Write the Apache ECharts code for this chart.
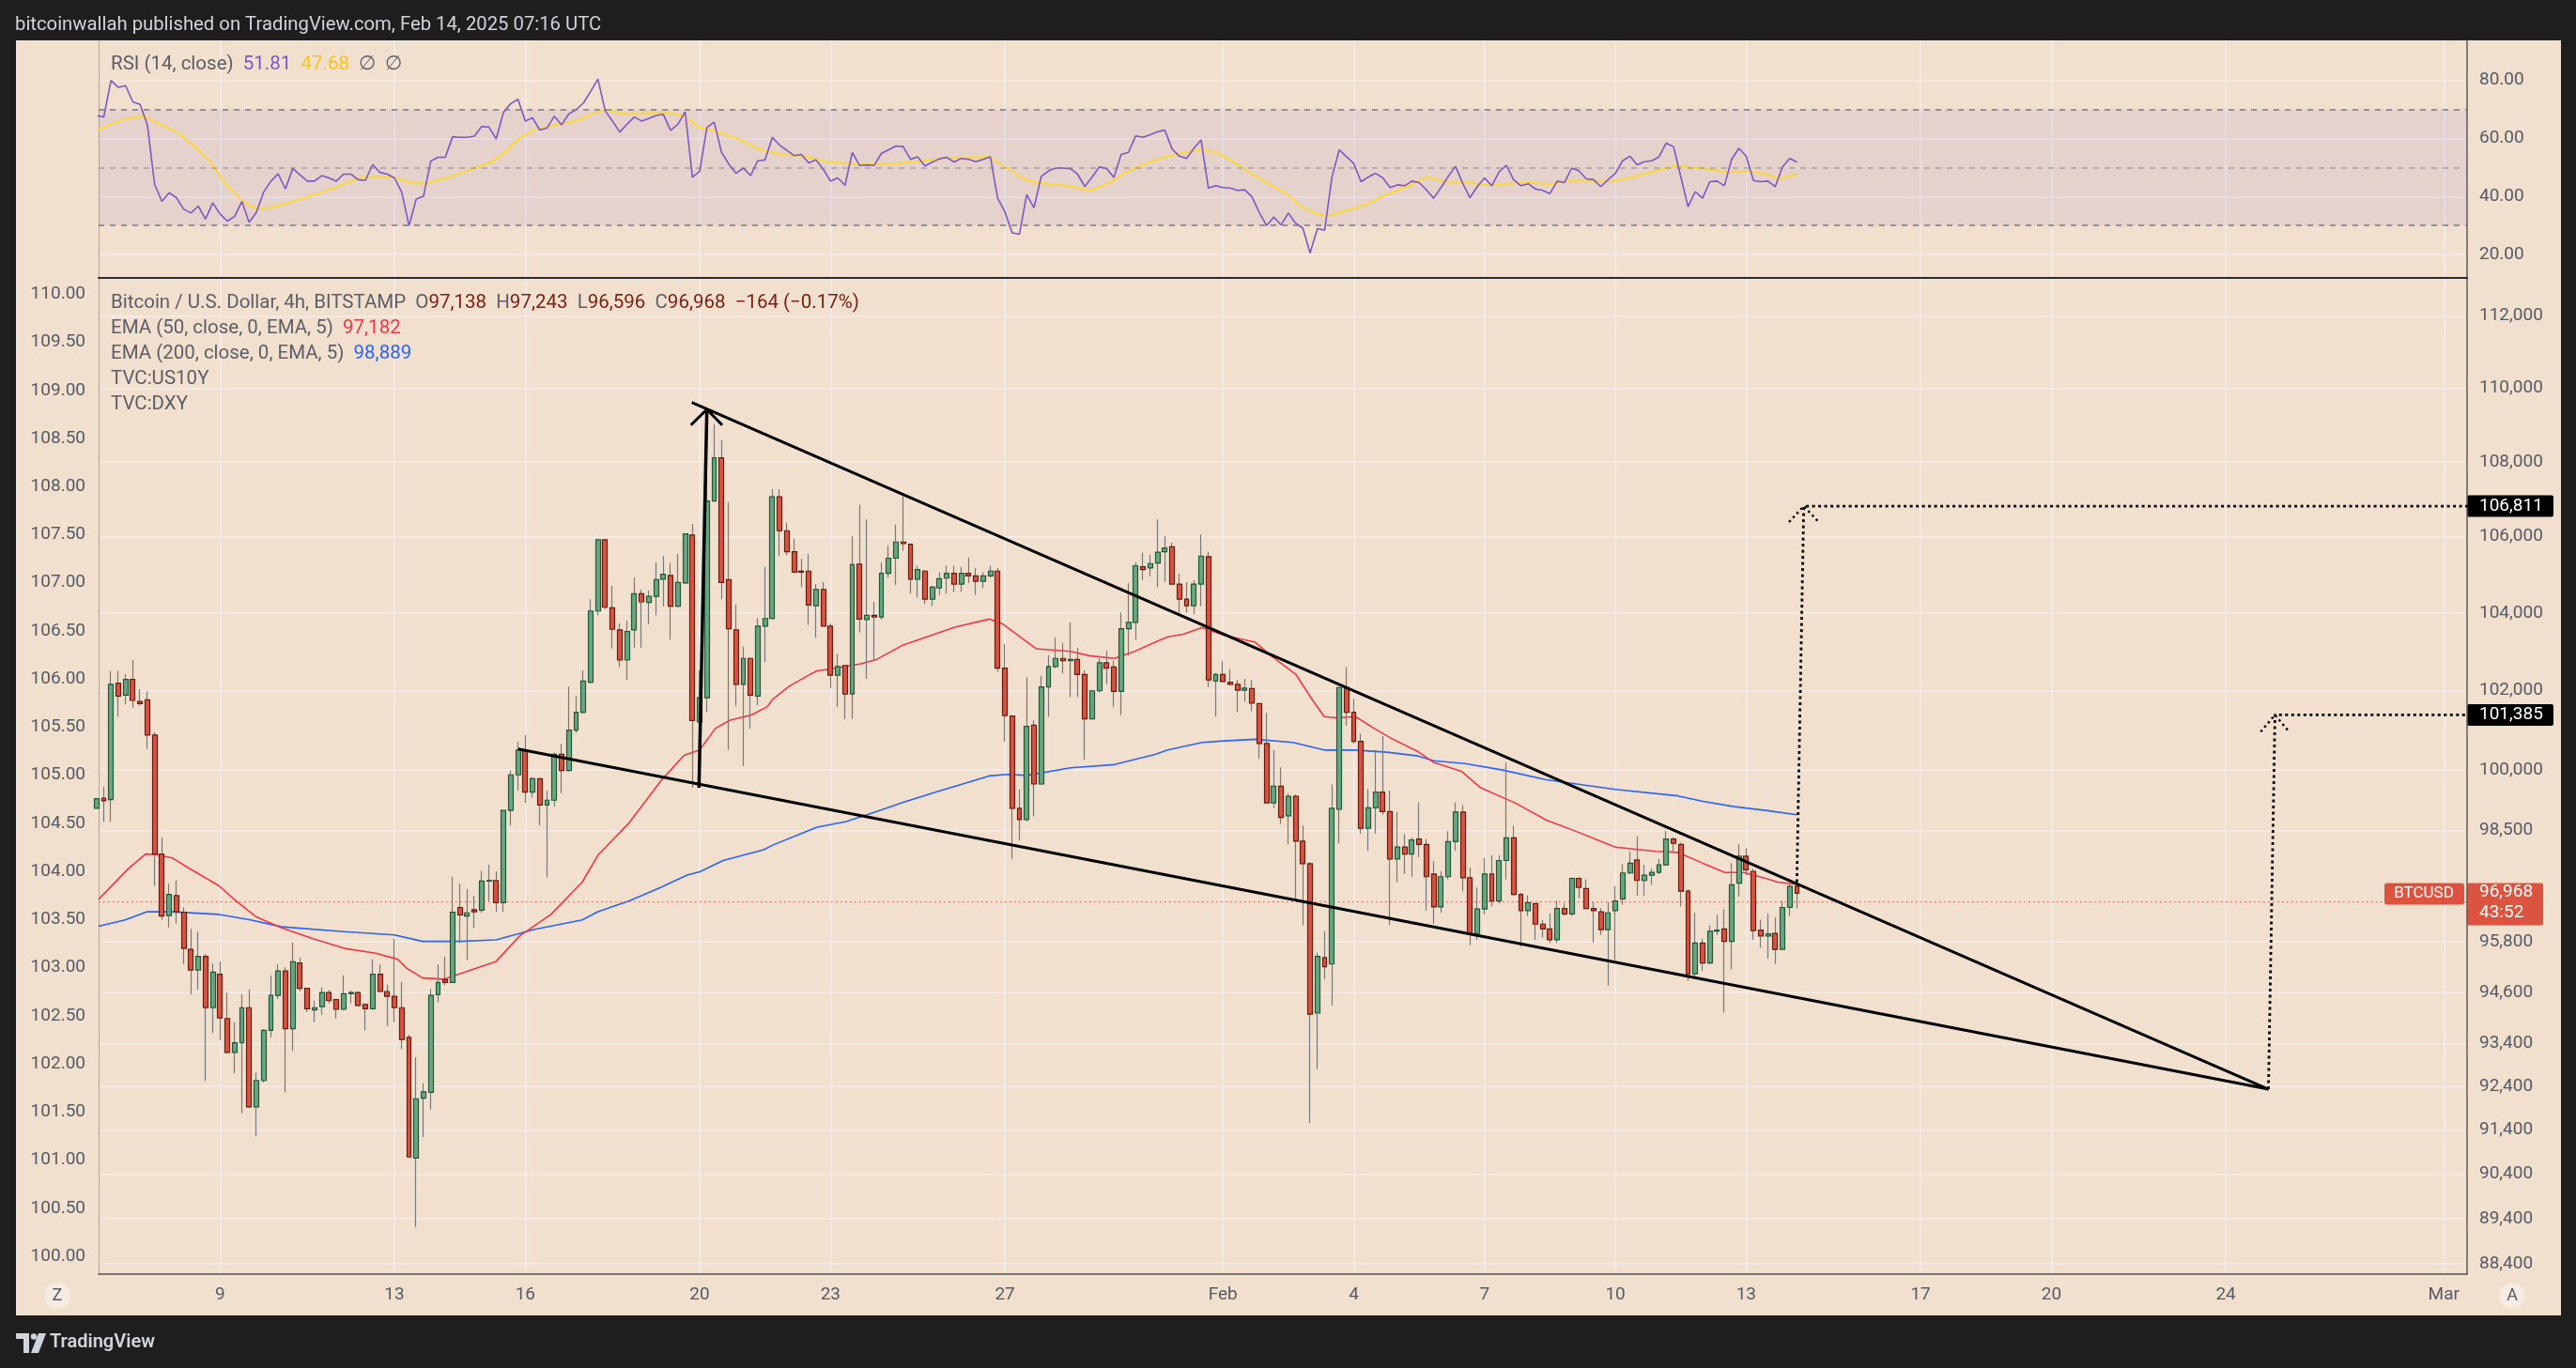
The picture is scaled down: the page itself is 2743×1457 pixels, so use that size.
<!DOCTYPE html>
<html><head><meta charset="utf-8">
<script src="https://cdn.jsdelivr.net/npm/echarts@6/dist/echarts.min.js"></script>
<style>
html,body{margin:0;padding:0;background:#1e1e1e;overflow:hidden}
#peach{position:absolute;left:17px;top:43px;width:2710px;height:1358px;background:#f2e0cf}
#c{position:absolute;left:0;top:0;width:2743px;height:1457px}
</style>
</head><body><div id="peach"></div><div id="c"></div>
<script>
// ---------- DATA ----------
const startDay = 5 + 4/24;          // first candle: Jan 6 04:00 UTC (days since Jan 1)
const stepDay = 1/6;                // 4h candles
const opens = [99048,99301,99261,102190,101888,102287,101723,101765,100878,97922,96431,96913,96508,95617,95129,95449,94236,95026,93983,93190,93415,94236,91932,92540,93705,94529,95103,93743,95295,94694,94186,94262,94592,94427,94198,94567,94592,94313,94211,95026,94618,94503,94236,93541,90764,92130,92266,94541,94898,94834,96625,96418,96573,96560,97265,97278,96743,98995,99878,100499,99449,99784,99128,99248,100391,99985,101000,101450,102217,104049,105915,104133,103561,102783,103561,104499,104274,104429,104879,104978,104175,104780,106043,101204,101819,106946,108104,104865,103561,102163,102825,101860,103658,103854,107061,106157,105601,105091,105091,104189,104611,103658,102397,102644,101915,105275,103826,103938,103896,105035,105431,105858,105801,104879,105091,104358,104654,104907,105035,104752,105035,104964,104822,104964,105091,102576,101354,99048,98768,101123,99650,102094,102617,102825,102769,102797,102411,101286,101997,102714,102603,101983,103589,103756,105204,105176,105304,105601,105729,104752,104358,104189,104752,105473,102245,102411,102217,102163,102011,102052,101669,100661,99181,99596,98862,99342,98239,97685,94109,95423,95269,99021,102080,101450,100715,98556,99061,99449,98968,97803,98093,97922,98292,98159,97435,96638,97370,98226,98955,97343,96003,96586,97435,96782,97764,98318,96939,96547,96717,96223,96106,95848,96599,96470,97330,97082,96599,96521,96093,96547,96834,97461,97777,97278,97409,97474,97659,98292,98159,97017,95039,95771,95295,96055,96106,95810,97213,97869,97501,96080,95939,96003,95617,96625,97138];
const highs = [99422,99583,102507,102507,102424,102783,102039,101983,100946,98331,97200,97278,96625,96106,96042,95513,95282,95333,94592,93895,94554,94669,92727,93731,95001,95257,95193,95784,95423,94694,94402,94719,94656,94427,95001,94643,94618,94338,95384,95257,94783,95874,94847,93604,93077,92477,94681,95257,95449,97370,97200,97069,96913,97514,97659,97501,99000,99985,100702,100878,99824,99798,99489,100431,100661,102108,101860,102521,104358,105943,105943,104710,103728,103798,104921,104611,104583,105318,105487,105304,105545,106086,106329,102521,107639,109024,108585,106917,104218,103130,102852,103868,105204,107263,107263,106372,105943,105417,105545,104752,104808,103728,102936,102644,106015,106845,106458,104288,105318,105772,106315,107134,105801,105233,105120,104710,105063,105233,105233,105204,105445,105176,105063,105233,105176,103199,101354,99516,102342,101245,102383,102908,103365,103213,103756,103102,102521,101997,102825,103019,102769,104007,104780,105318,105573,105516,106458,106015,105843,105020,104808,104850,106058,105601,102452,102755,102548,102273,102301,102273,101669,101436,100499,100067,99422,99395,98622,97724,95539,96055,99637,102080,102603,101792,100905,99530,100499,100851,99489,98955,98411,98331,99195,98292,97750,97501,98490,99195,99128,97593,97108,97829,97895,97895,100188,98622,96978,96913,96717,96327,96482,96782,96730,97356,97356,97304,96756,96612,96756,97147,97672,97987,98357,97659,97566,97803,98490,98331,98199,97069,96495,95874,96197,96457,96586,97698,98159,98066,97566,96327,96482,96392,96782,97200,97243];
const lows = [98955,98715,98715,101340,101655,101573,101614,100526,97147,96327,96145,96236,95269,94554,94656,92527,93642,93478,93165,92702,91783,91907,91253,92490,93541,94440,92266,93227,94618,94135,93895,94071,94338,93983,94173,94338,94262,93705,94186,94592,93806,93895,93265,90788,89213,91241,91870,94364,94770,94834,95771,95359,96132,96495,96782,96521,96521,98622,99489,99181,99315,98622,97356,99088,99422,99958,100932,101422,102190,103938,104105,103074,102603,102273,103102,103102,103700,103938,104175,103310,104147,104752,99556,99556,101450,106946,104358,100499,101614,100094,101041,101628,102728,103826,105487,105516,105063,104668,103686,103351,103658,102066,101587,101272,101286,103491,102301,102769,103826,104921,104724,105630,104499,104401,104232,104175,104471,104499,104541,104541,104780,104471,104640,104921,102479,100702,97803,98252,98729,98848,99623,101340,102576,102438,101833,101833,100256,101286,101956,102163,101587,101382,102894,103310,104850,104949,104668,104808,104752,104007,104007,103966,104175,102094,101340,102231,102135,101450,101723,101477,100283,99181,99048,98662,98159,96834,96197,91561,92801,94911,94287,98186,101109,100661,98424,98000,98424,98888,96197,97239,97435,97370,97843,96547,96236,96495,97304,98000,97017,95720,95848,96457,96651,96717,97304,96913,95681,96418,95848,95900,95771,95771,96418,96418,96847,96586,95784,95964,94758,95359,96690,97435,96913,96913,97174,97435,97632,97961,96651,94873,94950,95103,95269,95964,94122,95141,96886,97409,95848,95655,95397,95269,95617,96418,96596];
const closes = [99288,99235,102163,101860,102287,101751,101669,100878,97922,96418,96939,96521,95642,95129,95449,94236,95078,93996,93190,93415,94236,91932,92540,93705,94529,95103,93743,95321,94694,94211,94236,94592,94402,94198,94567,94592,94287,94211,95026,94618,94503,94236,93491,90788,92117,92278,94529,94834,94834,96508,96444,96495,96521,97265,97278,96743,98995,99878,100499,99449,99784,99128,99248,100391,99985,101000,101450,102245,104049,105915,104147,103575,102783,103519,104499,104288,104429,104865,105006,104175,104794,106072,101245,101819,106946,108104,104794,103589,102163,102825,101888,103658,103854,107061,106157,105601,105063,105063,104204,104611,103658,102397,102617,101915,105261,103840,103938,103896,105035,105431,105858,105815,104879,105134,104358,104668,104893,105035,104752,105035,104964,104822,104964,105091,102576,101368,99048,98768,101096,99650,102094,102617,102825,102769,102797,102411,101286,101997,102714,102576,101983,103589,103756,105233,105134,105289,105587,105701,104752,104358,104189,104752,105487,102273,102411,102231,102163,102011,102066,101682,100661,99181,99596,98822,99342,98239,97685,94084,95449,95205,99048,102080,101450,100715,98556,99061,99449,98968,97803,98093,97922,98265,98159,97370,96638,97370,98226,98955,97343,96003,96586,97435,96782,97764,98318,96939,96547,96743,96223,96106,95848,96599,96470,97330,97108,96599,96547,96093,96495,96782,97461,97698,97278,97409,97474,97659,98292,98186,97017,95039,95771,95295,96055,96080,95810,97174,97869,97540,96068,95939,95990,95617,96625,97134,96968];
const rsiValues = [67.9,67.4,80.0,77.6,78.2,72.6,71.7,64.7,44.2,38.3,41.3,39.6,35.6,34.3,36.7,32.2,37.8,34.0,31.5,33.1,38.3,31.1,34.5,41.5,45.3,47.8,42.6,49.6,47.5,45.3,45.3,47.2,46.4,45.3,47.7,47.7,45.8,45.5,51.0,48.3,47.7,46.4,41.5,30.0,39.1,40.1,52.2,53.5,53.5,60.6,60.4,60.4,60.8,64.1,63.9,59.8,69.0,72.0,73.5,66.0,67.1,62.9,63.6,67.7,64.7,68.5,69.9,72.2,76.2,80.5,69.5,66.0,62.2,64.9,67.4,66.0,66.9,67.9,68.3,62.8,64.9,69.2,46.7,48.7,63.8,65.6,55.2,51.2,48.0,49.8,47.2,52.3,52.6,60.4,57.7,55.9,54.1,54.5,51.6,52.6,49.4,45.3,46.4,43.9,55.2,50.7,50.9,50.7,54.8,56.1,57.4,57.2,52.8,53.7,50.5,51.8,53.0,53.5,51.9,53.1,52.8,52.0,52.8,53.7,39.4,34.7,27.5,27.0,40.7,36.1,46.9,48.8,49.8,49.8,49.6,47.7,43.4,46.7,50.2,49.6,46.6,54.5,55.2,60.9,60.4,61.3,62.3,62.9,56.4,53.9,53.1,56.6,59.5,42.9,43.7,43.1,42.9,42.1,42.3,39.9,34.5,30.0,32.9,30.2,34.3,30.8,29.1,20.5,28.9,28.4,46.6,56.1,53.7,51.4,45.1,46.7,48.0,46.4,43.1,44.0,43.7,45.3,44.8,42.3,39.4,43.1,46.9,50.4,44.5,39.6,43.4,46.4,43.7,48.5,50.7,45.8,43.7,44.4,42.6,42.1,41.0,45.3,44.8,49.8,48.8,46.1,45.8,43.4,45.8,48.0,52.3,53.9,50.9,52.0,52.3,53.6,58.4,57.2,46.9,36.5,41.7,39.4,45.1,45.3,43.7,52.8,56.6,53.9,45.5,45.1,45.3,43.4,50.2,53.1,51.8];
const rsiMA = [[5.208,62.9],[5.487,64.9],[5.865,66.9],[6.245,67.7],[6.497,65.8],[7.003,62.3],[7.382,57.7],[7.762,52.3],[8.140,44.2],[8.520,38.3],[8.835,35.8],[9.150,36.1],[9.656,38.3],[10.162,40.7],[10.667,43.1],[11.173,46.4],[11.678,46.9],[11.993,46.4],[12.310,45.0],[12.688,44.4],[13.194,46.4],[13.700,49.1],[14.205,51.8],[14.522,55.0],[14.837,59.8],[15.217,63.1],[15.722,64.7],[16.227,66.3],[16.607,69.0],[16.858,69.9],[17.237,68.5],[17.743,68.5],[18.248,69.0],[18.628,67.9],[19.007,63.6],[19.387,62.5],[19.892,59.8],[20.397,56.1],[20.903,54.5],[21.408,53.9],[21.788,52.3],[22.293,51.6],[22.800,51.2],[23.304,51.2],[23.808,51.8],[24.313,52.6],[24.820,53.4],[25.633,53.6],[26.008,50.2],[26.383,46.4],[26.700,44.8],[27.267,44.0],[27.650,43.1],[27.967,42.1],[28.410,44.8],[28.789,48.5],[29.295,51.8],[29.800,54.1],[30.180,55.3],[30.558,56.3],[30.938,54.5],[31.317,51.2],[31.697,47.5],[32.075,44.2],[32.455,41.0],[32.833,36.1],[33.217,33.7],[33.400,33.2],[33.845,35.3],[34.225,36.9],[34.730,40.6],[35.235,43.4],[35.678,46.7],[36.120,45.1],[36.625,44.8],[37.005,44.0],[37.510,44.4],[38.017,44.8],[38.517,44.2],[39.025,45.5],[39.533,45.1],[39.905,45.3],[40.410,46.7],[40.917,48.8],[41.350,50.5],[41.683,50.2],[42.183,49.4],[42.567,48.3],[43.067,48.8],[43.450,47.7],[43.767,46.1],[44.167,47.68]];
const ema50 = [[5.215,96821],[5.538,97174],[5.898,97566],[6.292,97922],[6.544,97908],[6.902,97829],[7.261,97593],[7.621,97370],[7.978,97147],[8.338,96808],[8.840,96392],[9.415,96132],[10.132,95874],[10.852,95642],[11.569,95526],[12.071,95384],[12.286,95167],[12.646,94937],[13.148,94911],[13.794,95141],[14.333,95333],[14.871,95939],[15.590,96457],[16.307,97239],[16.667,97895],[17.384,98689],[18.101,99717],[18.640,100364],[19.000,100499],[19.359,101041],[19.682,101245],[20.184,101382],[20.543,101587],[20.686,101792],[21.045,102108],[21.476,102383],[21.691,102507],[21.978,102548],[22.697,102686],[23.055,102797],[23.667,103171],[24.276,103407],[24.851,103631],[25.640,103840],[25.928,103728],[26.430,103310],[26.716,103074],[27.507,103005],[27.937,102894],[28.512,102825],[28.943,102991],[29.445,103240],[29.732,103379],[30.091,103449],[30.522,103617],[31.024,103421],[31.743,103240],[32.101,102894],[32.676,102411],[33.035,101792],[33.322,101340],[33.609,101313],[34.039,101340],[34.470,101041],[34.901,100770],[35.476,100458],[35.835,100188],[36.481,99958],[36.912,99556],[37.414,99315],[37.701,99181],[38.420,98755],[39.137,98463],[39.999,98093],[40.932,97987],[41.435,97961],[42.009,97698],[42.513,97474],[42.943,97474],[43.445,97330],[43.732,97239],[44.167,97182]];
const ema200 = [[5.215,96171],[5.825,96327],[6.329,96521],[6.902,96521],[7.978,96457],[8.698,96327],[9.415,96158],[10.852,96042],[12.000,95964],[12.646,95810],[13.507,95810],[14.333,95848],[15.195,96093],[16.307,96327],[16.667,96521],[17.384,96782],[18.101,97108],[18.712,97409],[19.000,97488],[19.538,97764],[20.470,98027],[20.686,98146],[21.476,98490],[21.691,98582],[22.338,98715],[22.840,98888],[23.702,99208],[24.492,99476],[25.640,99851],[26.070,99891],[26.501,99864],[27.507,100053],[28.512,100134],[29.445,100391],[29.732,100499],[30.522,100688],[31.024,100729],[31.743,100770],[32.605,100688],[33.322,100499],[34.039,100499],[34.759,100445],[35.476,100350],[35.835,100229],[36.553,100161],[37.414,99999],[38.420,99757],[39.999,99516],[41.435,99355],[42.009,99221],[42.728,99088],[43.445,98995],[44.167,98889]];
// drawings (anchor points: [day, price])
const upperTrend = [[18.820,109612],[54.978,92339]];
const lowerTrend = [[14.836,100525],[54.978,92339]];
const arrowShaft = [[18.984,99556],[19.165,109422]];
const arrowHead = [[18.799,108995],[19.165,109422],[19.516,108995]];
const projection1 = [[44.162,97237],[44.321,106811],[59.6,106811]];
const projection1Head = [[43.983,106387],[44.321,106811],[44.651,106402]];
const projection2 = [[54.978,92339],[55.128,101385],[59.6,101385]];
const projection2Head = [[54.80,100960],[55.128,101385],[55.45,100960]];
const lastPrice = 96968, target1 = 106811, target2 = 101385;
// axes
const xTickDays = [8,12,15,19,22,26,31,34,37,40,43,47,50,54,59];
const xTickLabels = ['9','13','16','20','23','27','Feb','4','7','10','13','17','20','24','Mar'];
const priceTicks = [88400,89400,90400,91400,92400,93400,94600,95800,98500,100000,102000,104000,106000,108000,110000,112000];
const dxyTicks = [100,100.5,101,101.5,102,102.5,103,103.5,104,104.5,105,105.5,106,106.5,107,107.5,108,108.5,109,109.5,110];
const rsiTicks = [20,40,60,80];

// ---------- CHART ----------
const FONT = 'Roboto, "Noto Sans", sans-serif';
const XMIN = 5.215, XMAX = 59.533;
const PMIN = 88171, PMAX = 113074;
const GRIDC = 'rgba(244,244,250,0.7)';
const AXT = '#555a66';
const LF = 20.5; // legend font size
const L = Math.log;
const fmt = n => String(n).replace(/\B(?=(\d{3})+(?!\d))/g, ',');
const times = opens.map((_, i) => startDay + i * stepDay);
const wickData = opens.map((o, i) => [times[i], L(o), L(closes[i]), L(lows[i]), L(highs[i])]);
const bodyData = opens.map((o, i) => [times[i], L(o), L(closes[i]), L(Math.min(o, closes[i])), L(Math.max(o, closes[i]))]);
const lnPts = a => a.map(p => [p[0], L(p[1])]);
const rsiData = rsiValues.map((v, i) => [times[i], v]);

const chart = echarts.init(document.getElementById('c'), null, {width: 2743, height: 1457});

const lineS = (name, data, color, width, type, z) => ({
  type: 'line', name, xAxisIndex: 1, yAxisIndex: 2, data: lnPts(data), showSymbol: false, symbol: 'none',
  silent: true, z: z || 5, lineStyle: {color, width, type: type || 'solid', cap: 'butt'}
});

const option = {
  animation: false,
  backgroundColor: 'transparent',
  textStyle: {fontFamily: FONT},
  grid: [
    {left: 105, right: 116, top: 43, height: 253},
    {left: 105, right: 116, top: 296, height: 1061}
  ],
  xAxis: [
    {type: 'value', gridIndex: 0, min: XMIN, max: XMAX,
     axisLine: {show: true, onZero: false, lineStyle: {color: '#2b2d36', width: 2}},
     axisTick: {show: false, customValues: xTickDays}, axisLabel: {show: false, customValues: xTickDays},
     splitLine: {show: true, lineStyle: {color: GRIDC, width: 1.5}}},
    {type: 'value', gridIndex: 1, min: XMIN, max: XMAX,
     axisLine: {show: true, onZero: false, lineStyle: {color: '#4d4f57', width: 1.5}},
     axisTick: {show: false, customValues: xTickDays},
     axisLabel: {customValues: xTickDays, margin: 13, color: AXT, fontSize: 19, fontFamily: FONT,
       formatter: v => xTickLabels[xTickDays.indexOf(Math.round(v))]},
     splitLine: {show: true, lineStyle: {color: GRIDC, width: 1.5}}}
  ],
  yAxis: [
    {type: 'value', gridIndex: 0, position: 'right', min: 11.94, max: 93.8,
     axisLine: {show: true, onZero: false, lineStyle: {color: '#5e5a57', width: 1.5}},
     axisTick: {show: false, customValues: rsiTicks},
     axisLabel: {customValues: rsiTicks, align: 'left', margin: 13, color: AXT, fontSize: 19, fontFamily: FONT,
       formatter: v => v.toFixed(2)},
     splitLine: {show: true, lineStyle: {color: GRIDC, width: 1.5}}},
    {type: 'value', gridIndex: 0, position: 'left', min: 11.94, max: 93.8,
     axisLine: {show: true, onZero: false, lineStyle: {color: '#b0a69e', width: 1}},
     axisTick: {show: false}, axisLabel: {show: false}, splitLine: {show: false}},
    {type: 'value', gridIndex: 1, position: 'right', min: L(PMIN), max: L(PMAX),
     axisLine: {show: true, onZero: false, lineStyle: {color: '#5e5a57', width: 1.5}},
     axisTick: {show: false, customValues: priceTicks.map(L)},
     axisLabel: {customValues: priceTicks.map(L), align: 'left', margin: 13, color: AXT, fontSize: 19, fontFamily: FONT,
       formatter: v => fmt(Math.round(Math.exp(v) / 100) * 100)},
     splitLine: {show: true, lineStyle: {color: GRIDC, width: 1.5}}},
    {type: 'value', gridIndex: 1, position: 'left', min: 99.8146, max: 110.1688,
     axisLine: {show: true, onZero: false, lineStyle: {color: '#b0a69e', width: 1}},
     axisTick: {show: false, customValues: dxyTicks},
     axisLabel: {customValues: dxyTicks, margin: 14, color: AXT, fontSize: 19, fontFamily: FONT,
       formatter: v => v.toFixed(2)},
     splitLine: {show: false}}
  ],
  series: [
    {type: 'line', name: 'RSI', xAxisIndex: 0, yAxisIndex: 0, data: rsiData, showSymbol: false, symbol: 'none', silent: true, z: 4,
     lineStyle: {color: '#7e57c2', width: 1.6},
     markArea: {silent: true, itemStyle: {color: 'rgba(126,87,194,0.1)'}, data: [[{yAxis: 30}, {yAxis: 70}]]},
     markLine: {silent: true, symbol: 'none', label: {show: false}, animation: false,
       data: [
         {yAxis: 70, lineStyle: {color: '#787b86', type: [6, 6], width: 1.5}},
         {yAxis: 50, lineStyle: {color: 'rgba(120,123,134,0.6)', type: [6, 6], width: 1.5}},
         {yAxis: 30, lineStyle: {color: '#787b86', type: [6, 6], width: 1.5}}
       ]}},
    {type: 'line', name: 'RSI MA', xAxisIndex: 0, yAxisIndex: 0, data: rsiMA, showSymbol: false, symbol: 'none', silent: true, z: 3,
     lineStyle: {color: '#fdd835', width: 2}},
    lineS('EMA200', ema200, '#2962ff', 1.6, 'solid', 3),
    lineS('EMA50', ema50, '#f23645', 1.6, 'solid', 3),
    {type: 'candlestick', name: 'wicks', xAxisIndex: 1, yAxisIndex: 2, data: wickData, encode: {x: 0, y: [1, 2, 3, 4]},
     barWidth: 0.01, large: false, silent: true, z: 4,
     itemStyle: {color: '#787878', color0: '#787878', borderColor: '#787878', borderColor0: '#787878', borderColorDoji: '#787878', borderWidth: 1.2}},
    {type: 'candlestick', name: 'BTCUSD', xAxisIndex: 1, yAxisIndex: 2, data: bodyData, encode: {x: 0, y: [1, 2, 3, 4]},
     barWidth: 5.4, large: false, silent: true, z: 5,
     itemStyle: {color: '#6aa583', color0: '#d75442', borderColor: '#1f5a36', borderColor0: '#6a1c12', borderColorDoji: '#1f5a36', borderWidth: 1.2},
     markLine: {silent: true, symbol: 'none', label: {show: false}, animation: false,
       data: [{yAxis: L(lastPrice), lineStyle: {color: '#e0533f', type: [1.5, 3.5], width: 1.2}}]}},
    lineS('upper', upperTrend, '#000', 3, 'solid', 7),
    lineS('lower', lowerTrend, '#000', 3, 'solid', 7),
    lineS('arrow', arrowShaft, '#000', 3.5, 'solid', 7),
    lineS('arrowHead', arrowHead, '#000', 3, 'solid', 7),
    lineS('proj1', projection1, '#000', 2.8, [3, 3.5], 7),
    lineS('proj1h', projection1Head, '#000', 2.4, [2.5, 3.5], 7),
    lineS('proj2', projection2, '#000', 2.8, [3, 3.5], 7),
    lineS('proj2h', projection2Head, '#000', 2.4, [2.5, 3.5], 7)
  ]
};
chart.setOption(option);

// ---------- text / labels ----------
const yOf = p => chart.convertToPixel({xAxisIndex: 1, yAxisIndex: 2}, [XMIN, L(p)])[1];
const yT1 = yOf(target1), yT2 = yOf(target2), yLP = yOf(lastPrice);
const rich = {
  g: {fill: '#5b5e68', fontSize: LF, fontFamily: FONT},
  m: {fill: '#7a2015', fontSize: LF, fontFamily: FONT},
  r: {fill: '#f23645', fontSize: LF, fontFamily: FONT},
  b: {fill: '#2962ff', fontSize: LF, fontFamily: FONT},
  p: {fill: '#7e57c2', fontSize: LF, fontFamily: FONT},
  y: {fill: '#f5c518', fontSize: LF, fontFamily: FONT}
};
const txt = (x, y, text, extra) => Object.assign({type: 'text', x, y, silent: true, z: 50,
  style: {text, rich, fill: '#5b5e68', font: LF + 'px ' + FONT, verticalAlign: 'middle', align: 'left'}}, extra || {});
const priceBox = (y, text, bg) => ({type: 'group', silent: true, z: 60, children: [
  {type: 'rect', shape: {x: 2627, y: y - 11.5, width: 92, height: 23, r: 2}, style: {fill: bg}},
  {type: 'text', x: 2640, y: y, style: {text, fill: '#ffffff', font: '19px ' + FONT, verticalAlign: 'middle', align: 'left'}}
]});
chart.setOption({graphic: [
  {type: 'text', x: 16, y: 27, silent: true, style: {text: 'bitcoinwallah published on TradingView.com, Feb 14, 2025 07:16 UTC', fill: '#d1d4dc', font: '20.3px ' + FONT, verticalAlign: 'middle'}},
  txt(118, 69, '{g|RSI (14, close)}  {p|51.81}  {y|47.68}  {g|∅}  {g|∅}'),
  txt(118, 323, '{g|Bitcoin / U.S. Dollar, 4h, BITSTAMP}  {g|O}{m|97,138}  {g|H}{m|97,243}  {g|L}{m|96,596}  {g|C}{m|96,968}  {m|−164 (−0.17%)}'),
  txt(118, 350, '{g|EMA (50, close, 0, EMA, 5)}  {r|97,182}'),
  txt(118, 377, '{g|EMA (200, close, 0, EMA, 5)}  {b|98,889}'),
  txt(118, 404, '{g|TVC:US10Y}'),
  txt(118, 431, '{g|TVC:DXY}'),
  priceBox(yT1, '106,811', '#000000'),
  priceBox(yT2, '101,385', '#000000'),
  {type: 'group', silent: true, z: 60, children: [
    {type: 'rect', shape: {x: 2627, y: yLP - 11, width: 81, height: 45, r: 2}, style: {fill: '#dc5441'}},
    {type: 'text', x: 2640, y: yLP - 1, style: {text: '96,968', fill: '#ffffff', font: '19px ' + FONT, verticalAlign: 'middle'}},
    {type: 'text', x: 2640, y: yLP + 21, style: {text: '43:52', fill: '#ffffff', font: '19px ' + FONT, verticalAlign: 'middle'}},
    {type: 'rect', shape: {x: 2539, y: yLP - 11, width: 85, height: 23, r: 3}, style: {fill: '#dc5441'}},
    {type: 'text', x: 2581, y: yLP, style: {text: 'BTCUSD', fill: '#ffffff', font: '17px ' + FONT, verticalAlign: 'middle', align: 'center'}}
  ]},
  {type: 'circle', silent: true, z: 50, shape: {cx: 61, cy: 1380, r: 14}, style: {fill: 'rgba(255,255,255,0.35)'}},
  {type: 'text', silent: true, z: 51, x: 61, y: 1380, style: {text: 'Z', fill: AXT, font: '18px ' + FONT, align: 'center', verticalAlign: 'middle'}},
  {type: 'circle', silent: true, z: 50, shape: {cx: 2675, cy: 1380, r: 14}, style: {fill: 'rgba(255,255,255,0.35)'}},
  {type: 'text', silent: true, z: 51, x: 2675, y: 1380, style: {text: 'A', fill: AXT, font: '18px ' + FONT, align: 'center', verticalAlign: 'middle'}},
  {type: 'polygon', silent: true, shape: {points: [[17,1420],[31,1420],[31,1441],[25,1441],[25,1426],[17,1426]]}, style: {fill: '#d1d4dc'}},
  {type: 'circle', silent: true, shape: {cx: 36, cy: 1423.5, r: 3.2}, style: {fill: '#d1d4dc'}},
  {type: 'polygon', silent: true, shape: {points: [[41,1420],[49,1420],[41,1441],[33,1441]]}, style: {fill: '#d1d4dc'}},
  {type: 'text', x: 53, y: 1430, silent: true, style: {text: 'TradingView', fill: '#d1d4dc', font: '600 20px ' + FONT, verticalAlign: 'middle'}}
]});
</script>
</body></html>
